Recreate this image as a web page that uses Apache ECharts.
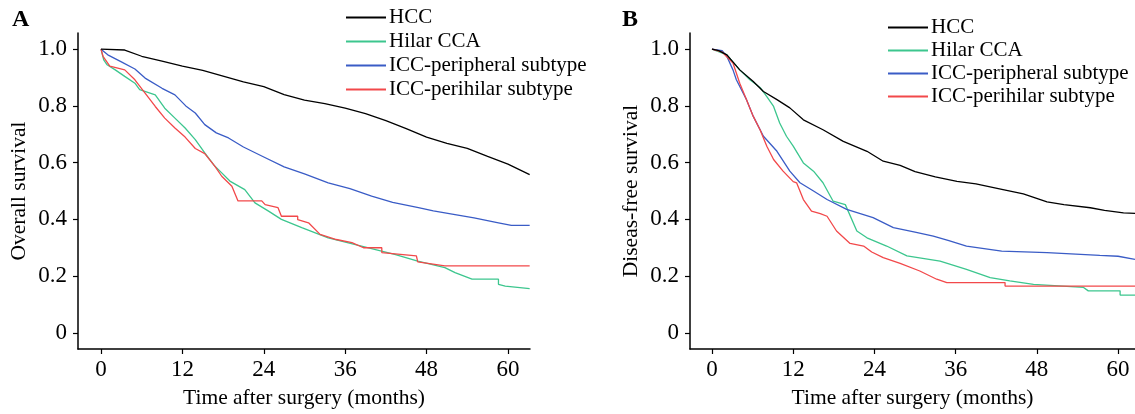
<!DOCTYPE html>
<html><head><meta charset="utf-8">
<script src="https://cdn.jsdelivr.net/npm/echarts@6/dist/echarts.min.js"></script>
<style>html,body{margin:0;padding:0;background:#fff}#c{width:1135px;height:414px}</style>
</head><body><div id="c"></div>
<script>
// ---- data (months, survival probability) ----
const seriesNames = ['HCC', 'Hilar CCA', 'ICC-peripheral subtype', 'ICC-perihilar subtype'];
const xTicks = [0, 12, 24, 36, 48, 60];
const yTicks = [0, 0.2, 0.4, 0.6, 0.8, 1.0];
const panelLabels = ['A', 'B'];
const yAxisNames = ['Overall survival', 'Diseas-free survival'];
const xAxisName = 'Time after surgery (months)';

// Panel A: overall survival
const osHCC = [[0,1],[3.5,0.997],[6,0.975],[9,0.958],[12,0.94],[15,0.925],[18,0.905],[21,0.885],[24,0.868],[27,0.84],[30,0.82],[33,0.808],[36,0.792],[39,0.773],[42,0.748],[45,0.72],[48,0.69],[51,0.668],[54,0.65],[57,0.622],[60,0.595],[63.2,0.558]];
const osHilar = [[0,1],[0.4,0.962],[0.9,0.945],[2.1,0.927],[3.5,0.904],[5,0.88],[5.7,0.857],[8,0.839],[9.4,0.792],[10.9,0.757],[12.4,0.722],[13.9,0.681],[15.3,0.634],[16.8,0.587],[17.8,0.564],[19,0.535],[21.2,0.505],[22.7,0.458],[24.7,0.429],[26.6,0.4],[29.6,0.371],[33.5,0.335],[38.4,0.306],[43.3,0.277],[46.7,0.253],[50.7,0.23],[52.2,0.212],[54.7,0.189],[58.6,0.189],[58.6,0.171],[59.6,0.165],[63.2,0.156]];
const osPeripheral = [[0,1],[1,0.98],[3,0.955],[5,0.93],[6.5,0.898],[9,0.862],[10.9,0.839],[12.5,0.8],[13.9,0.775],[15.3,0.734],[17,0.705],[18.8,0.687],[21,0.655],[24,0.62],[27,0.585],[30,0.56],[33.5,0.529],[36.7,0.508],[39.9,0.482],[43,0.46],[46.8,0.441],[49,0.43],[52.2,0.417],[55,0.405],[58.6,0.388],[60.5,0.379],[63.2,0.379]];
const osPerihilar = [[0,1],[0.3,0.975],[1.3,0.94],[3.5,0.927],[5,0.892],[6.5,0.845],[8,0.798],[9.4,0.757],[10.9,0.722],[12.4,0.69],[13.9,0.65],[15.3,0.632],[16.8,0.587],[17.8,0.552],[19.3,0.517],[20.2,0.465],[23.7,0.465],[24.2,0.452],[26.1,0.441],[26.6,0.411],[29,0.411],[29,0.399],[30.6,0.388],[32.3,0.347],[34.7,0.329],[37,0.318],[38.7,0.3],[41.4,0.3],[41.4,0.283],[46.5,0.271],[46.7,0.25],[50.7,0.236],[63.2,0.236]];

// Panel B: disease-free survival
const dfsHCC = [[0,1],[1,0.995],[2.2,0.98],[4.1,0.927],[6.1,0.886],[7.6,0.851],[9.6,0.822],[11.5,0.793],[13.5,0.751],[16.4,0.716],[19.4,0.675],[22.9,0.64],[25.3,0.605],[27.8,0.59],[30,0.568],[33,0.55],[36.2,0.534],[39,0.525],[43,0.505],[46,0.49],[49.5,0.462],[52,0.452],[55.9,0.441],[58,0.432],[60.8,0.423],[62.5,0.421]];
const dfsHilar = [[0,1],[2.2,0.98],[4.1,0.927],[5.6,0.892],[7.1,0.865],[8.1,0.833],[9.1,0.798],[10,0.74],[11,0.693],[12,0.658],[13.5,0.599],[15,0.57],[16.4,0.529],[17.9,0.464],[19.7,0.452],[21.4,0.359],[22.9,0.335],[25.8,0.306],[28.8,0.271],[33.7,0.253],[37.6,0.224],[41.1,0.195],[44,0.183],[47.5,0.171],[54.9,0.16],[55.6,0.148],[60.3,0.148],[60.3,0.133],[62.5,0.133]];
const dfsPeripheral = [[0,1],[1.5,0.995],[2.2,0.974],[3.1,0.927],[3.6,0.892],[5.1,0.822],[6.1,0.763],[7.6,0.693],[9.6,0.64],[11.5,0.57],[13,0.529],[15,0.5],[17,0.47],[19.9,0.435],[23.8,0.406],[26.8,0.371],[30,0.355],[32.7,0.341],[35,0.325],[37.6,0.306],[42.8,0.288],[49.5,0.283],[57.3,0.273],[60,0.27],[62.5,0.259]];
const dfsPerihilar = [[0,1],[1.5,0.99],[3.1,0.951],[4.1,0.88],[5.1,0.822],[6.1,0.763],[7.1,0.716],[8.1,0.658],[9.1,0.611],[10.5,0.57],[12,0.533],[12.5,0.529],[13.5,0.47],[14.7,0.429],[16,0.42],[17,0.411],[18.4,0.359],[20.4,0.315],[22.4,0.306],[23.6,0.285],[25.3,0.265],[27.8,0.245],[30.7,0.218],[33.2,0.189],[34.7,0.177],[43.3,0.177],[43.3,0.165],[62.5,0.165]];

const colors = {'HCC':'#000000','Hilar CCA':'#3cc68e','ICC-peripheral subtype':'#3a5cc6','ICC-perihilar subtype':'#f2484a'};
const FONT = "'Liberation Serif', 'Times New Roman', serif";

const chart = echarts.init(document.getElementById('c'), null, {renderer:'canvas'});

function xAxisCfg(gi, min, max) {
  return {
    type:'value', gridIndex:gi, min:min, max:max,
    name: xAxisName, nameLocation:'middle', nameGap:38,
    nameTextStyle:{fontFamily:FONT, fontSize:21.5, color:'#000'},
    axisLine:{show:true, onZero:false, lineStyle:{color:'#000', width:1.5}},
    axisTick:{show:true, length:5, inside:false, customValues:xTicks, lineStyle:{color:'#000', width:1.2}},
    axisLabel:{customValues:xTicks, margin:9, fontFamily:FONT, fontSize:23, color:'#000'},
    splitLine:{show:false}
  };
}
function yAxisCfg(gi, name) {
  return {
    type:'value', gridIndex:gi, min:-0.057, max:1.057,
    name: name, nameLocation:'middle', nameGap:48, nameRotate:90,
    nameTextStyle:{fontFamily:FONT, fontSize:21.5, color:'#000'},
    axisLine:{show:true, onZero:false, lineStyle:{color:'#000', width:1.5}},
    axisTick:{show:true, length:5, customValues:yTicks, lineStyle:{color:'#000', width:1.2}},
    axisLabel:{customValues:yTicks, margin:11, fontFamily:FONT, fontSize:23, color:'#000',
      formatter: v => v === 0 ? '0' : v.toFixed(1)},
    splitLine:{show:false}
  };
}
function mk(name, data, gi) {
  return {
    name:name, type:'line', xAxisIndex:gi, yAxisIndex:gi, data:data,
    showSymbol:false, symbol:'none', animation:false, clip:true,
    color: colors[name],
    lineStyle:{width:1.3, color:colors[name]}
  };
}
function legendCfg(left, top, gap) {
  return {
    orient:'vertical', left:left, top:top, itemGap:gap, padding:0,
    icon:'rect', itemWidth:40, itemHeight:2,
    data: seriesNames,
    selectedMode:false,
    textStyle:{fontFamily:FONT, fontSize:21, color:'#000', lineHeight:21, padding:[0,0,0,-2]}
  };
}

const panelA = [osHCC, osHilar, osPeripheral, osPerihilar];
const panelB = [dfsHCC, dfsHilar, dfsPeripheral, dfsPerihilar];
const drawOrder = [1, 2, 3, 0];
const series = [];
drawOrder.forEach(i => series.push(mk(seriesNames[i], panelA[i], 0)));
drawOrder.forEach(i => series.push(mk(seriesNames[i], panelB[i], 1)));

chart.setOption({
  backgroundColor:'#fff',
  animation:false,
  title:[
    {text:panelLabels[0], left:12, top:8, padding:0, textStyle:{fontFamily:FONT, fontSize:24, fontWeight:'bold', color:'#000'}},
    {text:panelLabels[1], left:622, top:8, padding:0, textStyle:{fontFamily:FONT, fontSize:24, fontWeight:'bold', color:'#000'}}
  ],
  legend:[legendCfg(346, 7, 3), legendCfg(888, 17, 2)],
  grid:[
    {left:78, top:33, width:452, height:317},
    {left:690, top:33, width:445, height:317}
  ],
  xAxis:[xAxisCfg(0, -3.39, 63.25), xAxisCfg(1, -3.25, 62.5)],
  yAxis:[yAxisCfg(0, yAxisNames[0]), yAxisCfg(1, yAxisNames[1])],
  series:series
});
</script>
</body></html>
